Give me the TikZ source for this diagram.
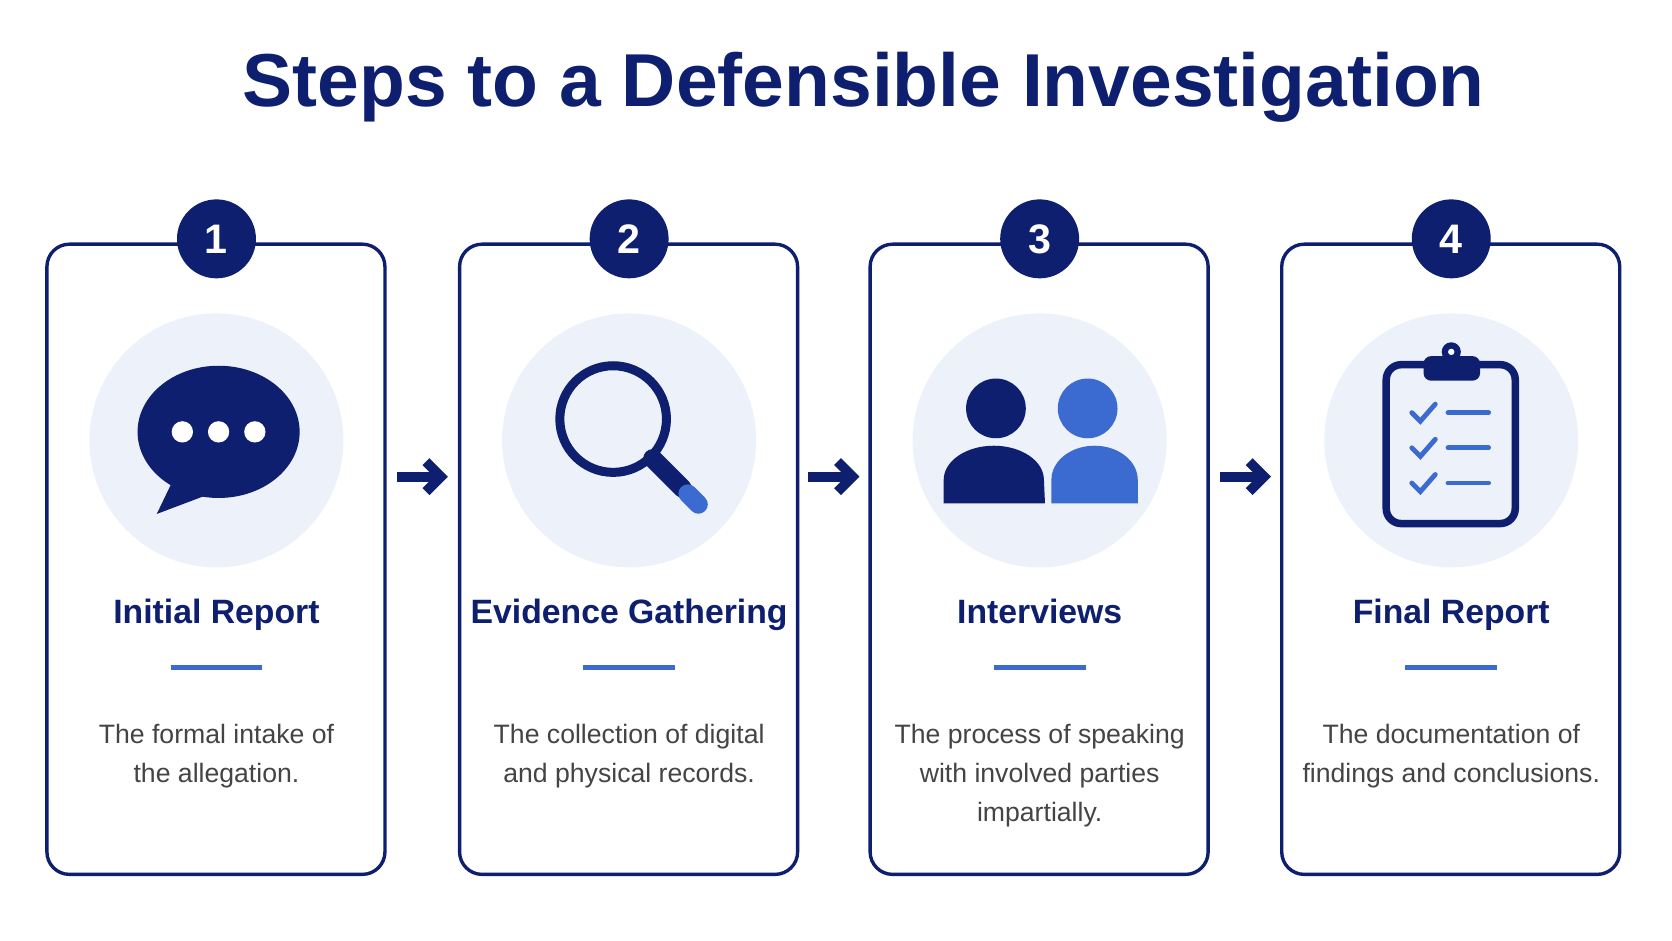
\documentclass[tikz,border=0pt]{standalone}
\usepackage{fontspec}
\setmainfont{Liberation Sans}
\usetikzlibrary{positioning,arrows.meta}
\definecolor{navy}{HTML}{0D1F6E}
\definecolor{midblue}{HTML}{3B6AD0}
\definecolor{pale}{HTML}{ECF1FA}
\definecolor{txtgray}{HTML}{444444}
\tikzset{
  card/.style={draw=navy, line width=0.9pt, rounded corners=6pt, fill=white},
  num/.style={circle, fill=navy, minimum size=0.74cm, inner sep=0pt, text=white, font=\bfseries\fontsize{11}{11}\selectfont},
  halo/.style={circle, fill=pale, minimum size=2.38cm, inner sep=0pt},
  steptitle/.style={text=navy, anchor=base, font=\bfseries\fontsize{9}{12}\selectfont},
  desc/.style={text=txtgray, align=center, font=\fontsize{7.1}{10.3}\selectfont},
  flow/.style={-{Straight Barb[length=4pt,width=8pt]}, line width=2.6pt, navy}
}
\begin{document}
\begin{tikzpicture}[x=0.01cm, y=-0.01cm]
\useasboundingbox (0,0) rectangle (1568,882);
\fill[white] (0,0) rectangle (1568,882);
\node[text=navy, font=\bfseries\fontsize{20}{24}\selectfont] (head) at (810,82) {Steps to a Defensible Investigation};
% cards
\foreach \i/\x/\t/\d in {1/203/Initial Report/{The formal intake of\\the allegation.},
  2/590/Evidence Gathering/{The collection of digital\\and physical records.},
  3/975/Interviews/{The process of speaking\\with involved parties\\impartially.},
  4/1361/Final Report/{The documentation of\\findings and conclusions.}}{
  \draw[card] (\x-159,229) rectangle (\x+158,820);
  \node[num] (n\i) at (\x,224) {\i};
  \node[halo] (h\i) at (\x,413) {};
  \node[steptitle] (t\i) at (\x,585) {\t};
  \draw[midblue, line width=1.3pt] (\x-43,626) -- (\x+43,626);
  \node[desc, anchor=north] (d\i) at (\x,667) {\d};
}
% arrows between cards
\foreach \x [count=\k] in {372,758,1144}{
  \coordinate (a\k) at (\x,447);
  \coordinate (b\k) at (\x+48,447);
  \draw[flow] (a\k) -- (b\k);
}
% speech bubble
\fill[navy] (205,405) ellipse (76 and 62);
\fill[navy] (160,455) -- (147,482) -- (200,462) -- cycle;
\foreach \x in {171,205,239} \fill[white] (\x,405) circle (10);
% magnifier
\draw[navy, line width=2.4pt] (575,393) circle (50);
\draw[navy, line width=5pt, line cap=round] (612,430) -- (640,458);
\draw[midblue, line width=5pt, line cap=round] (645,463) -- (655,473);
% people
\fill[navy] (934,383) circle (28);
\fill[navy] (885,472) -- (885,450) arc[start angle=180, end angle=360, x radius=47, y radius=32] -- (980,472) -- cycle;
\fill[midblue] (1020,383) circle (28);
\fill[midblue] (986,472) -- (986,450) arc[start angle=180, end angle=360, x radius=40.5, y radius=32] -- (1067,472) -- cycle;
% clipboard
\draw[navy, line width=2pt, rounded corners=4pt] (1300,342) rectangle (1421,491);
\fill[navy, rounded corners=2pt] (1335,334) rectangle (1388,357);
\fill[navy] (1361,330) circle (9);
\fill[white] (1361,330) circle (3);
\foreach \y in {387,420,453}{
  \draw[midblue, line width=1.3pt, line cap=round] (1324,\y) -- (1332,\y+8) -- (1346,\y-8);
  \draw[midblue, line width=1.3pt, line cap=round] (1358,\y) -- (1396,\y);
}
\end{tikzpicture}
\end{document}
